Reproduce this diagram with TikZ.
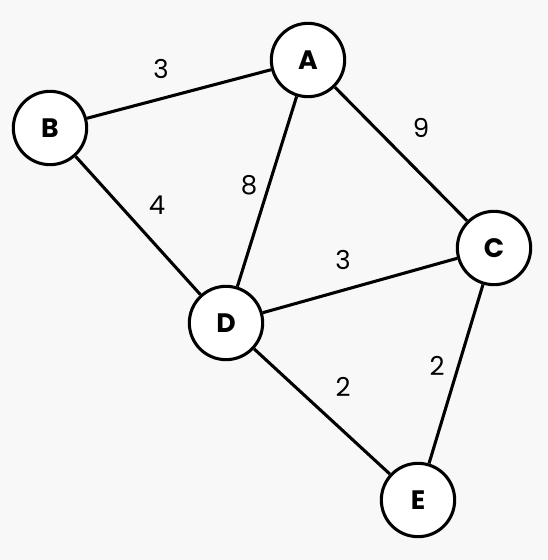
\documentclass[tikz,border=0pt]{standalone}
\usepackage{fontspec}
\setmainfont{Poppins}
\definecolor{bg}{HTML}{F8F8F8}
\begin{document}
\begin{tikzpicture}[x=0.75pt,y=-0.75pt,
  vert/.style={circle,draw=black,fill=white,line width=2.3pt,minimum size=55pt,inner sep=0pt,font=\fontsize{20}{24}\selectfont\bfseries},
  edge/.style={draw=black,line width=2.3pt},
  wt/.style={font=\fontsize{19.5}{23}\selectfont,text=black}]
\fill[bg] (0,0) rectangle (548,560);
\useasboundingbox (0,0) rectangle (548,560);
\node[vert] (A) at (308,60) {A};
\node[vert] (B) at (50,128) {B};
\node[vert] (C) at (494,248) {C};
\node[vert] (D) at (226,323) {D};
\node[vert] (E) at (418,500) {E};
\draw[edge] (B) -- (A);
\draw[edge] (A) -- (C);
\draw[edge] (A) -- (D);
\draw[edge] (B) -- (D);
\draw[edge] (D) -- (C);
\draw[edge] (D) -- (E);
\draw[edge] (C) -- (E);
\node[wt] (w1) at (161,69) {3};
\node[wt] (w2) at (421,128) {9};
\node[wt] (w3) at (249,185) {8};
\node[wt] (w4) at (157,205) {4};
\node[wt] (w5) at (343,260) {3};
\node[wt] (w6) at (437,366) {2};
\node[wt] (w7) at (343,387) {2};
\end{tikzpicture}
\end{document}
